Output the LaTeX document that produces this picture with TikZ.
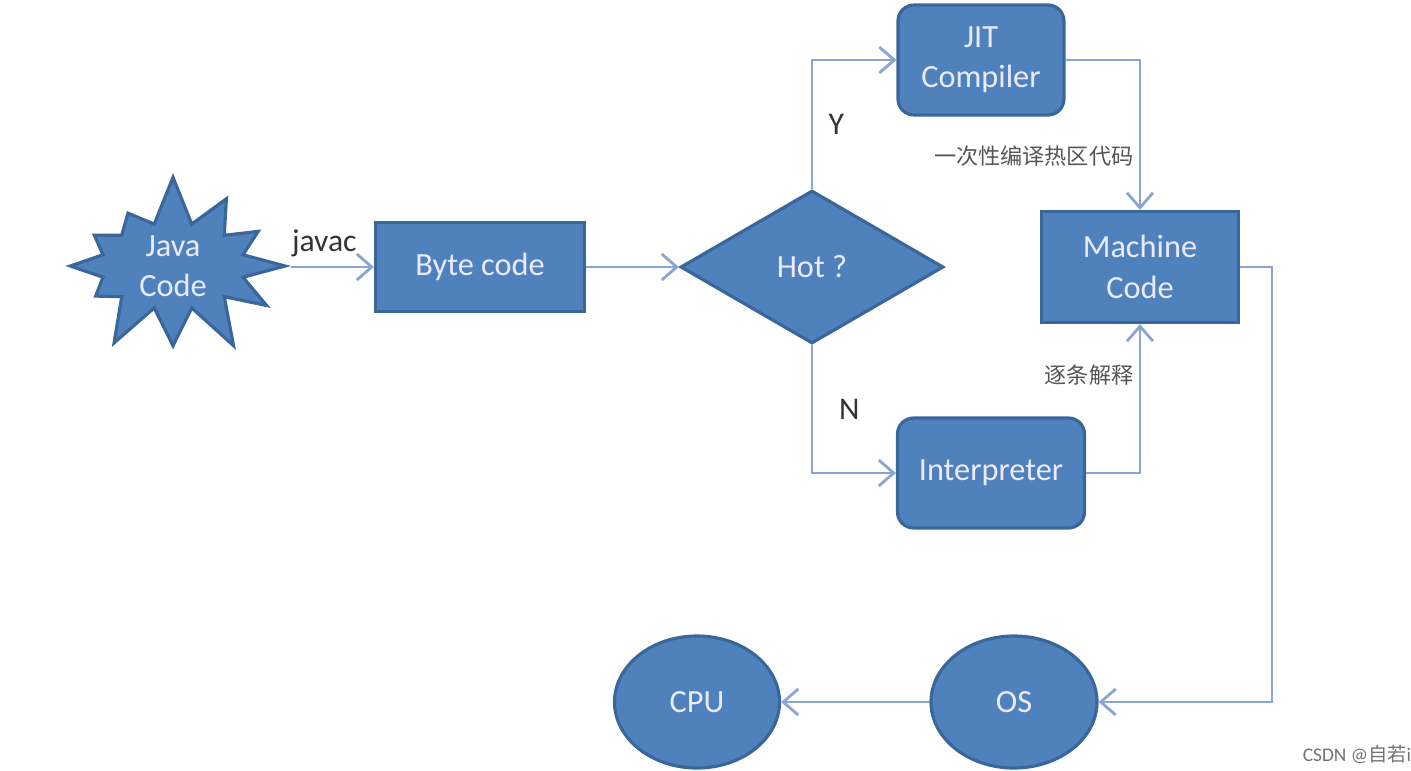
\documentclass[tikz,border=0pt]{standalone}
\usepackage{fontspec}
\setmainfont{Carlito}
\newfontfamily\cjk{Noto Sans CJK SC}
\usetikzlibrary{positioning}
\usetikzlibrary{arrows.meta}
\usetikzlibrary{shapes.geometric, shapes.symbols}

\definecolor{boxblue}{HTML}{4F81BD}
\definecolor{boxline}{HTML}{3A679A}
\definecolor{flowline}{HTML}{8AA5D2}
\definecolor{labelgray}{HTML}{555555}

\tikzset{
  block/.style={draw=boxline, line width=0.9pt, fill=boxblue, text=white!92!blue,
    font=\fontsize{9.2}{11.5}\selectfont, align=center, inner sep=0pt},
  flow/.style={flowline, line width=0.8pt, -{Straight Barb[length=1.5mm, width=2.6mm]}},
  tag/.style={text=labelgray, font=\cjk\fontsize{6.3}{8}\selectfont, inner sep=1.5pt},
  yn/.style={text=black!80, font=\fontsize{9}{11}\selectfont}
}

\begin{document}
\begin{tikzpicture}
\useasboundingbox (0,0) rectangle (14.11,-7.70);

\node[block, starburst, starburst points=12, starburst point height=0.5cm,
  random starburst=7, minimum width=2.45cm, minimum height=1.72cm] (java) at (1.73,-2.66) {Java\\Code};
\node[block, minimum width=2.09cm, minimum height=0.89cm] (byte) at (4.80,-2.67) {Byte code};
\node[block, diamond, minimum width=2.63cm, minimum height=1.53cm] (hot) at (8.12,-2.67) {Hot ?};
\node[block, rounded corners=0.16cm, minimum width=1.66cm, minimum height=1.10cm] (jit) at (9.81,-0.60) {JIT\\Compiler};
\node[block, minimum width=1.97cm, minimum height=1.11cm] (mc) at (11.40,-2.67) {Machine\\Code};
\node[block, rounded corners=0.16cm, minimum width=1.87cm, minimum height=1.10cm] (interp) at (9.91,-4.73) {Interpreter};
\node[block, ellipse, minimum width=1.66cm, minimum height=1.32cm] (os) at (10.14,-7.02) {OS};
\node[block, ellipse, minimum width=1.65cm, minimum height=1.32cm] (cpu) at (6.97,-7.02) {CPU};

\draw[flow] (java.east |- byte.west) -- (byte.west) node[pos=0.4, above=-1pt, yn] {javac};
\draw[flow] (byte) -- (hot);
\draw[flow] (hot.north) |- (jit.west) node[pos=0.25, right=1pt, yn] {Y};
\draw[flow] (jit.east) -| (mc.north) node[pos=0.82, left, tag] {一次性编译热区代码};
\draw[flow] (hot.south) |- (interp.west) node[pos=0.25, right=4pt, yn] {N};
\draw[flow] (interp.east) -| (mc.south) node[pos=0.83, left, tag] {逐条解释};
\draw[flow] (mc.east) -- ++(0.32,0) |- (os.east);
\draw[flow] (os) -- (cpu);

\node[text=black!55, font=\fontsize{5.5}{7}\selectfont] (mark) at (13.57,-7.54) {CSDN @{\cjk 自若}i};
\end{tikzpicture}
\end{document}
